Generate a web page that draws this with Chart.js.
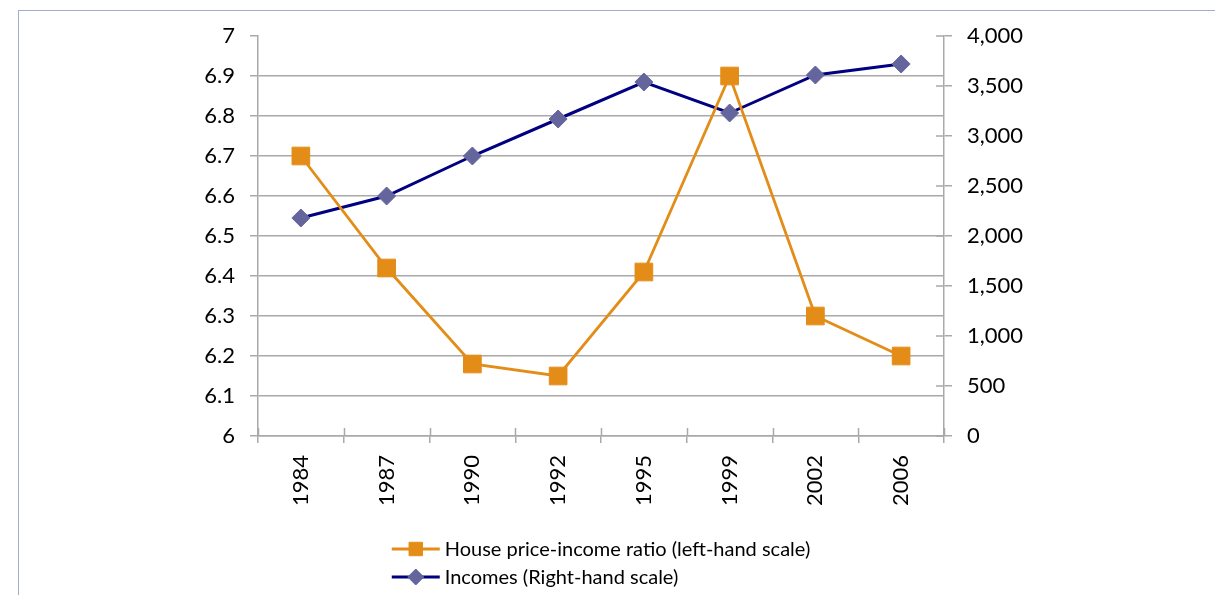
<!DOCTYPE html>
<html>
<head>
<meta charset="utf-8">
<script src="https://cdn.jsdelivr.net/npm/chart.js@4"></script>
<style>
  html, body { margin: 0; padding: 0; background: #fff; overflow: hidden; }
  #wrap { position: relative; width: 1215px; height: 595px; }
  #frame {
    position: absolute; left: 18px; top: 10px; width: 1300px; height: 700px;
    border: 1.5px solid #a4abd3; box-sizing: border-box;
  }
  #chart { position: absolute; left: 0; top: 0; }
</style>
</head>
<body>
<div id="wrap">
  <div id="frame"></div>
  <canvas id="chart" width="1215" height="595"></canvas>
</div>
<script>
const years = ['1984', '1987', '1990', '1992', '1995', '1999', '2002', '2006'];
const priceIncomeRatio = [6.70, 6.42, 6.18, 6.15, 6.41, 6.90, 6.30, 6.20];
const incomes = [2180, 2400, 2800, 3170, 3540, 3230, 3610, 3720];
const leftTicks = [6, 7, 0.1];
const rightTicks = [0, 4000, 500];

const FAMILY = 'Lato, "Open Sans", sans-serif';
const FONT = { family: FAMILY, size: 22 };
const LEGEND_SIZE = 20;
const GRID = '#a9a9a9';
const ORANGE = '#e38d18';
const NAVY = '#000080';
const DIAMOND = '#64659c';

// excel style ticks that cross the axis line (inner half)
const crossTicks = {
  id: 'crossTicks',
  beforeDatasetsDraw(chart) {
    const ctx = chart.ctx;
    const y1 = chart.scales.y1;
    const area = chart.chartArea;
    ctx.save();
    ctx.strokeStyle = GRID;
    ctx.lineWidth = 1.5;
    ctx.beginPath();
    const step = (area.right - area.left) / years.length;
    for (let i = 0; i <= years.length; i++) {
      const px = Math.round(area.left + i * step) + 0.5;
      ctx.moveTo(px, area.bottom);
      ctx.lineTo(px, area.bottom - 8);
    }
    y1.ticks.forEach(t => {
      const py = y1.getPixelForValue(t.value);
      ctx.moveTo(area.right, py);
      ctx.lineTo(area.right - 8, py);
    });
    ctx.stroke();
    ctx.restore();
  }
};

// two-row legend under the plot, line + marker like the spreadsheet
const rowLegend = {
  id: 'rowLegend',
  afterDraw(chart) {
    const ctx = chart.ctx;
    const area = chart.chartArea;
    ctx.save();
    ctx.font = LEGEND_SIZE + 'px ' + FAMILY;
    ctx.textBaseline = 'middle';
    const widths = chart.data.datasets.map(ds => ctx.measureText(ds.label).width);
    const total = 48 + 5 + Math.max(...widths);
    const left = (area.left + area.right) / 2 - total / 2;
    chart.data.datasets.forEach((ds, i) => {
      const cy = 549 + i * 28;
      ctx.strokeStyle = ds.borderColor;
      ctx.lineWidth = ds.borderWidth;
      ctx.beginPath();
      ctx.moveTo(left, cy);
      ctx.lineTo(left + 48, cy);
      ctx.stroke();
      ctx.fillStyle = ds.pointBackgroundColor;
      ctx.strokeStyle = ds.pointBorderColor;
      ctx.lineWidth = 1;
      Chart.helpers.drawPoint(ctx, {
        pointStyle: ds.pointStyle,
        radius: ds.pointStyle === 'rect' ? 9.5 : 8,
        borderWidth: 1
      }, left + 24, cy);
      ctx.fillStyle = '#000';
      ctx.fillText(ds.label, left + 53, cy + 1);
    });
    ctx.restore();
  }
};

new Chart(document.getElementById('chart'), {
  type: 'line',
  data: {
    labels: years,
    datasets: [{
      label: 'House price-income ratio (left-hand scale)',
      data: priceIncomeRatio,
      yAxisID: 'y',
      borderColor: ORANGE,
      borderWidth: 2.8,
      pointStyle: 'rect',
      pointRadius: 12.5,
      pointHoverRadius: 12.5,
      pointBackgroundColor: ORANGE,
      pointBorderColor: ORANGE,
      pointBorderWidth: 1,
      tension: 0
    }, {
      label: 'Incomes (Right-hand scale)',
      data: incomes,
      yAxisID: 'y1',
      borderColor: NAVY,
      borderWidth: 3,
      pointStyle: 'rectRot',
      pointRadius: 9,
      pointHoverRadius: 9,
      pointBackgroundColor: DIAMOND,
      pointBorderColor: DIAMOND,
      pointBorderWidth: 1,
      tension: 0
    }]
  },
  options: {
    responsive: false,
    animation: false,
    layout: { padding: { top: 36, left: 0, right: 0, bottom: 0 } },
    plugins: {
      legend: { display: false },
      tooltip: { enabled: false }
    },
    scales: {
      x: {
        type: 'category',
        offset: true,
        afterFit: s => { s.height = 159; },
        grid: {
          offset: true,
          drawOnChartArea: false,
          color: GRID,
          lineWidth: 1.5,
          tickLength: 7
        },
        border: { color: GRID, width: 1.5 },
        ticks: {
          minRotation: 90,
          maxRotation: 90,
          padding: 12,
          color: '#000',
          font: FONT
        }
      },
      y: {
        position: 'left',
        min: leftTicks[0],
        max: leftTicks[1],
        afterFit: s => { s.width = 258; },
        grid: {
          color: c => (c.tick && c.tick.value >= 7 - 1e-9) ? 'rgba(0,0,0,0)' : GRID,
          tickColor: GRID,
          lineWidth: 1.5,
          tickLength: 8
        },
        border: { color: GRID, width: 1.5 },
        ticks: {
          stepSize: leftTicks[2],
          padding: 15,
          color: '#000',
          font: FONT,
          callback: v => String(Number(v.toFixed(1)))
        }
      },
      y1: {
        position: 'right',
        min: rightTicks[0],
        max: rightTicks[1],
        afterFit: s => { s.width = 271; },
        grid: {
          drawOnChartArea: false,
          color: GRID,
          lineWidth: 1.5,
          tickLength: 8
        },
        border: { color: GRID, width: 1.5 },
        ticks: {
          stepSize: rightTicks[2],
          padding: 15,
          color: '#000',
          font: FONT,
          callback: v => v.toLocaleString('en-US')
        }
      }
    }
  },
  plugins: [crossTicks, rowLegend]
});
</script>
</body>
</html>
